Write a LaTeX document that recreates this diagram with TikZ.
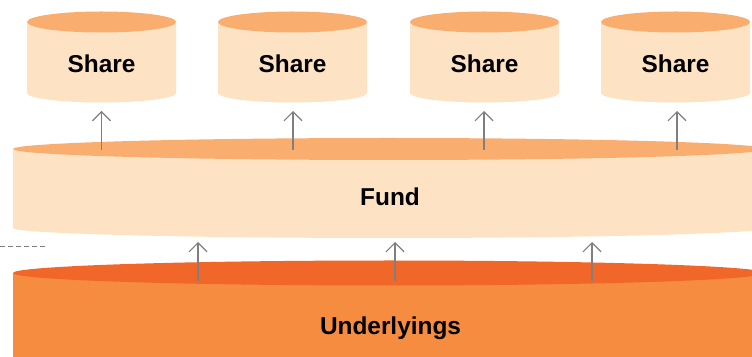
\documentclass[tikz,border=0pt]{standalone}
\usepackage{fontspec}
\setmainfont{Liberation Sans}
\usetikzlibrary{arrows.meta}

\definecolor{lidlight}{HTML}{F9AD6E}
\definecolor{bodylight}{HTML}{FDE3C4}
\definecolor{liddark}{HTML}{F16729}
\definecolor{bodydark}{HTML}{F58C40}
\definecolor{linkgray}{HTML}{7F7F7F}

% A flat drum: centre x, half width, lid y, lid radius, base y, base radius, lid colour, body colour
\newcommand\drumshape[8]{%
  \fill[#8] (#1-#2,#3) -- (#1-#2,#5)
    arc[start angle=180, end angle=360, x radius=#2pt, y radius=#6pt]
    -- (#1+#2,#3) -- cycle;
  \fill[#7] (#1,#3) ellipse[x radius=#2pt, y radius=#4pt];
}

\tikzset{
  label/.style={font=\fontsize{24.4pt}{28pt}\selectfont\bfseries, text=black,
    anchor=base, inner sep=0pt},
  link/.style={draw=linkgray, line width=1.2pt,
    -{Straight Barb[length=9pt, width=18pt, line width=1.2pt]}},
  guide/.style={draw=linkgray, line width=1pt, dash pattern=on 5pt off 3pt}
}

\begin{document}
\begin{tikzpicture}[x=1pt, y=1pt]
\useasboundingbox (0,0) rectangle (752,356);
\clip (0,0) rectangle (752,356);

% layers
\drumshape{389}{376}{83}{12.5}{-40}{10}{liddark}{bodydark}
\drumshape{389}{376}{207}{11}{128}{10}{lidlight}{bodylight}
\foreach \cx in {101.5,292.5,484.5,675.5}
  \drumshape{\cx}{74.5}{334}{10.5}{263}{9.5}{lidlight}{bodylight};

% labels
\node[label] (s1) at (101.5,283) {Share};
\node[label] (s2) at (292.5,283) {Share};
\node[label] (s3) at (484.5,283) {Share};
\node[label] (s4) at (675.5,283) {Share};
\node[label] (fund) at (390,150) {Fund};
\node[label] (under) at (390.5,22) {Underlyings};

% ends of the connectors
\coordinate (f1) at (101.5,206); \coordinate (t1) at (101.5,245);
\coordinate (f2) at (293,206);   \coordinate (t2) at (293,245);
\coordinate (f3) at (484,206);   \coordinate (t3) at (484,245);
\coordinate (f4) at (677,206);   \coordinate (t4) at (677,245);
\coordinate (u1) at (198,75);    \coordinate (v1) at (198,114);
\coordinate (u2) at (395,75);    \coordinate (v2) at (395,114);
\coordinate (u3) at (592,75);    \coordinate (v3) at (592,114);
\coordinate (dashA) at (0,109);  \coordinate (dashB) at (45,109);

% connectors
\foreach \a/\b in {f1/t1,f2/t2,f3/t3,f4/t4,u1/v1,u2/v2,u3/v3}
  \draw[link] (\a) -- (\b);
\draw[guide] (dashA) -- (dashB);
\end{tikzpicture}
\end{document}
